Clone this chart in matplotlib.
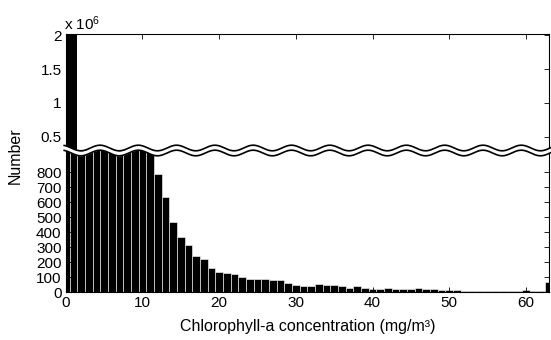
import numpy as np
import matplotlib.pyplot as plt

plt.rcParams['font.family'] = ['Liberation Sans', 'DejaVu Sans']
plt.rcParams['mathtext.fontset'] = 'custom'
plt.rcParams['mathtext.rm'] = 'Liberation Sans'
plt.rcParams['mathtext.it'] = 'Liberation Sans'

# histogram counts, one per 1 mg/m3 bin (bins centred on integers)
bin_centers = np.arange(0, 64)
counts = [2.3e6, 2.2e6, 1720, 1600, 1480, 1390, 1300, 1230, 1150, 1080,
          1010, 940, 792, 638, 470, 366, 312, 238, 222, 160,
          134, 126, 118, 100, 90, 90, 85, 77, 77, 63,
          47, 42, 42, 53, 46, 45, 40, 27, 40, 30,
          22, 20, 25, 22, 18, 20, 28, 22, 18, 15,
          12, 14, 10, 9, 9, 8, 10, 8, 6, 7,
          12, 6, 7, 70]

x_ticks = [0, 10, 20, 30, 40, 50, 60]
low_ticks = [0, 100, 200, 300, 400, 500, 600, 700, 800]
high_ticks = [0.5e6, 1e6, 1.5e6, 2e6]
high_labels = ['0.5', '1', '1.5', '2']

W, H = 551, 340
fig = plt.figure(figsize=(W / 100, H / 100), dpi=100)

left, right = 65.7, 549
ax_lo = fig.add_axes([left / W, 1 - 292 / H, (right - left) / W, 142 / H])
ax_hi = fig.add_axes([left / W, 1 - 150 / H, (right - left) / W, 116 / H])

ax_lo.bar(bin_centers, counts, width=1.0, color='black',
          edgecolor='white', linewidth=0.4)
ax_hi.bar(bin_centers, counts, width=1.0, color='black', linewidth=0)

for ax in (ax_lo, ax_hi):
    ax.set_xlim(0, 63)
    ax.set_xticks(x_ticks)
    ax.tick_params(direction='in', length=3.5, width=0.6, top=True, right=True,
                   labelsize=11, pad=3)
    for s in ax.spines.values():
        s.set_linewidth(0.8)

ax_lo.set_ylim(0, 950)
ax_lo.set_yticks(low_ticks)
ax_lo.spines['top'].set_visible(False)
ax_lo.tick_params(top=False)

ax_hi.set_ylim(0.3e6, 2.02e6)
ax_hi.set_yticks(high_ticks)
ax_hi.set_yticklabels(high_labels)
ax_hi.spines['bottom'].set_visible(False)
ax_hi.tick_params(bottom=False, labelbottom=False)

# wavy break between the two panels (pixel coordinates of the figure)
ax_w = fig.add_axes([0, 0, 1, 1])
ax_w.set_xlim(0, W)
ax_w.set_ylim(H, 0)
ax_w.axis('off')
xw = np.linspace(left - 1.5, W, 800)
up = 148 - 2.8 * np.cos(2 * np.pi * (xw - 100) / 38.3)
lo = up + 5
ax_w.fill_between(xw, up, lo, color='white', lw=0)
ax_w.plot(xw, up, color='black', lw=1.2)
ax_w.plot(xw, lo, color='black', lw=1.2)

fig.text(64 / W, 1 - 30 / H, r'x 10$^6$', fontsize=11, va='baseline')
fig.text(15 / W, 1 - 156 / H, 'Number', rotation=90, fontsize=11.5,
         ha='center', va='center')
fig.text((left + right) / 2 / W, 1 - 327 / H,
         'Chlorophyll-a concentration (mg/m\u00b3)', fontsize=11.5,
         ha='center', va='center')

fig.savefig('out.png', dpi=100)
